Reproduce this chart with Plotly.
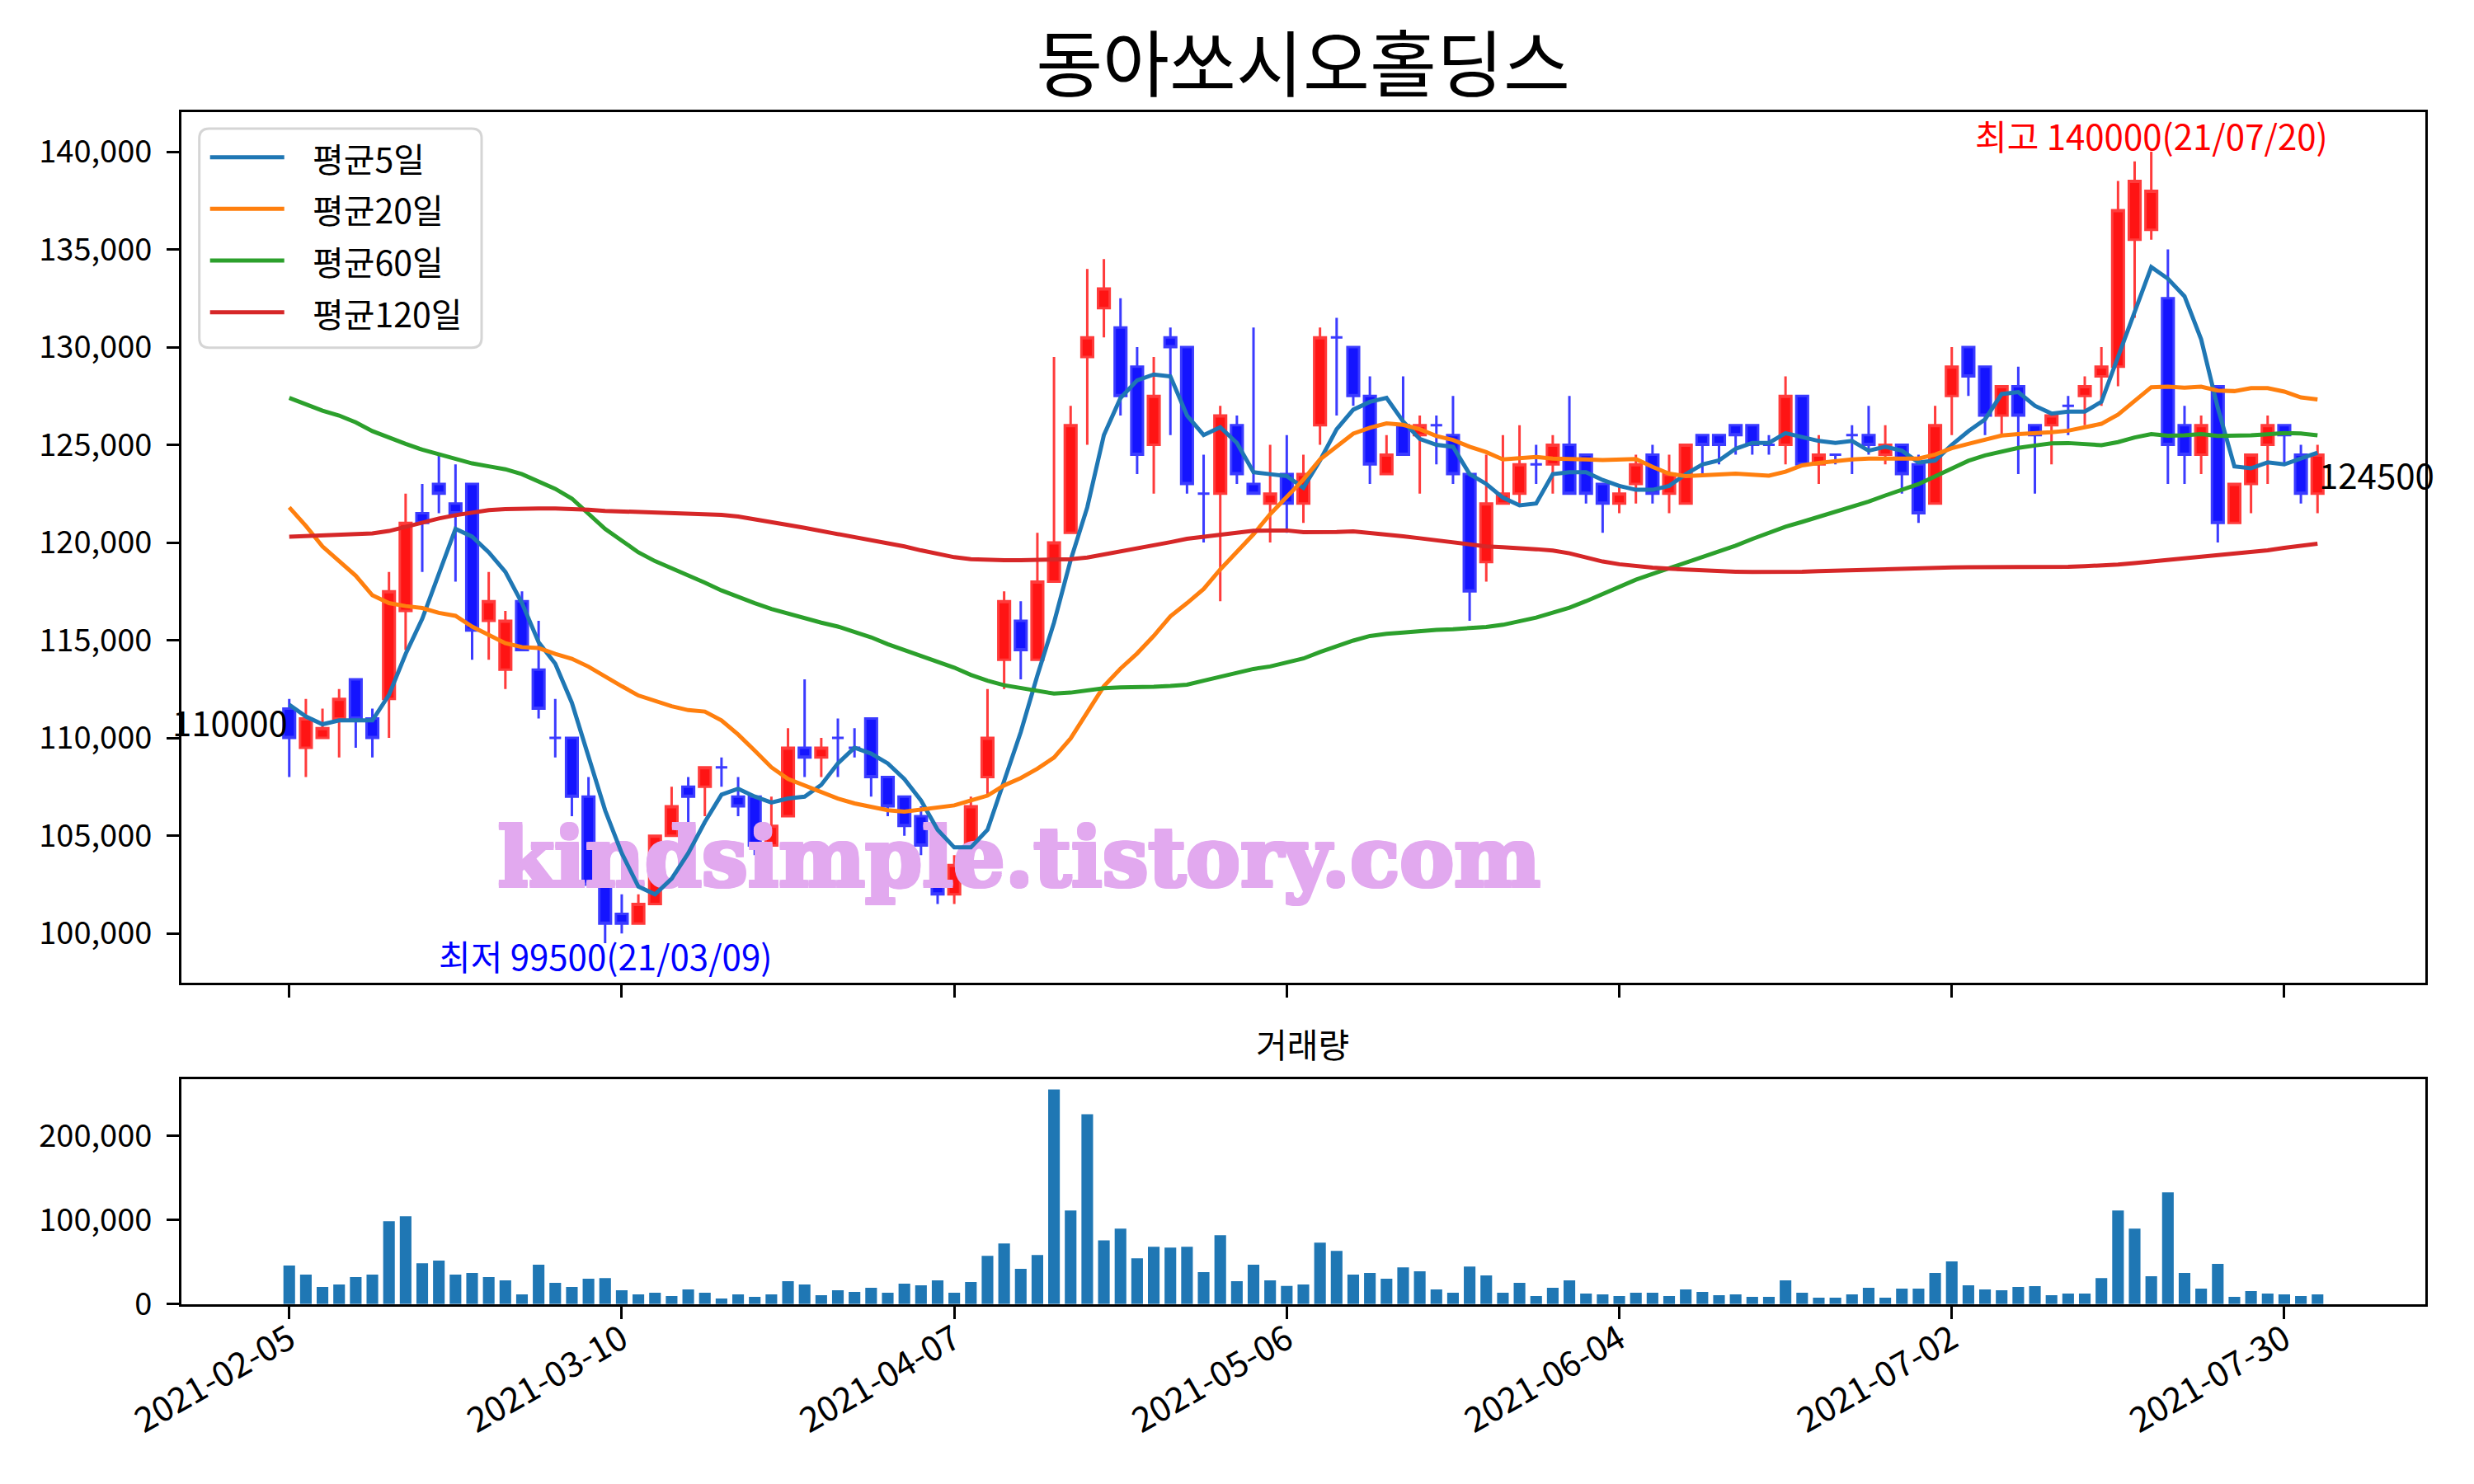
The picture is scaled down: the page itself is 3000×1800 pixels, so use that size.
import numpy as np
import pandas as pd
import plotly.graph_objects as go

# ---------------- data ----------------
stock_name = "동아쏘시오홀딩스"
start_date = "2021-02-05"
end_date = "2021-08-03"
krx_holidays = ["2021-02-11", "2021-02-12", "2021-03-01", "2021-05-05", "2021-05-19"]

ma_labels = ["평균5일", "평균20일", "평균60일", "평균120일"]
volume_title = "거래량"
watermark_text = "kindsimple.tistory.com"

open_ = [111500, 109500, 110000, 111000, 113000, 111000, 112000, 116500, 121500, 123000,
         122000, 123000, 116000, 113500, 117000, 113500, 110000, 110000, 107000, 102500,
         101000, 100500, 101500, 105000, 107500, 107500, 108500, 107000, 107000, 104500,
         106000, 109500, 109000, 110000, 109500, 111000, 108000, 107000, 106000, 103500,
         102000, 104500, 108000, 114000, 116000, 114000, 118000, 120500, 129500, 132000,
         131000, 129000, 125000, 130500, 130000, 122500, 122500, 126000, 123000, 122000,
         123500, 122000, 126000, 130500, 130000, 127500, 123500, 126000, 125500, 126000,
         125500, 123500, 119000, 122000, 122500, 124000, 124000, 125000, 124500, 123000,
         122000, 123000, 124500, 122500, 122000, 125500, 125500, 126000, 126000, 125000,
         125000, 127500, 124000, 124500, 125500, 125500, 124500, 125000, 124000, 122000,
         127500, 130000, 129000, 126500, 128000, 126000, 126000, 127000, 127500, 128500,
         129000, 135500, 136000, 132500, 126000, 124500, 128000, 121000, 123000, 125000,
         126000, 124500, 122500]
high = [112000, 112000, 111500, 112500, 113000, 111500, 118500, 122500, 123000, 124500,
        124000, 123000, 118500, 116500, 117500, 116000, 112000, 110000, 108000, 102500,
        102000, 102000, 105000, 107500, 108000, 108500, 109000, 108000, 107000, 107000,
        110500, 113000, 110000, 111000, 110500, 111000, 108000, 107000, 106500, 104000,
        104000, 107000, 112500, 117500, 117000, 120500, 129500, 127000, 134000, 134500,
        132500, 130000, 129500, 131000, 130000, 124500, 127000, 126500, 131000, 125000,
        125500, 124500, 131000, 131500, 130000, 128500, 125500, 128500, 126500, 126500,
        127500, 123500, 124500, 125500, 126000, 125000, 125500, 127500, 124500, 123000,
        123000, 124500, 125000, 124500, 125000, 125500, 125500, 126000, 126000, 125500,
        128500, 127500, 125500, 124500, 126000, 127000, 126000, 125000, 124500, 127000,
        130000, 130000, 129000, 128000, 129000, 126000, 126500, 127500, 128500, 130000,
        138500, 139500, 140000, 135000, 127000, 126500, 128000, 123000, 124500, 126500,
        126000, 125000, 125000]
low = [108000, 108000, 110000, 109000, 109500, 109000, 110000, 114500, 118500, 121500,
       118000, 114000, 114000, 112500, 114500, 111000, 109000, 106000, 102500, 99500,
       100000, 100500, 101500, 105000, 105500, 106000, 107500, 106000, 104000, 104500,
       106000, 108000, 108000, 108000, 109000, 107000, 106000, 105000, 104000, 101500,
       101500, 102500, 107000, 112500, 113000, 114000, 118000, 120500, 125000, 130500,
       126500, 123500, 122500, 125500, 122500, 120000, 117000, 123000, 122500, 120000,
       120500, 121000, 125000, 126500, 127000, 123000, 123500, 124500, 122500, 124000,
       123000, 116000, 118000, 122000, 122000, 123000, 122500, 122500, 122000, 120500,
       121500, 122000, 122000, 121500, 122000, 123500, 124000, 124500, 124500, 124500,
       124000, 124000, 123000, 124000, 123500, 124500, 124000, 122500, 121000, 122000,
       125500, 127500, 125500, 125500, 123500, 122500, 124000, 125500, 126000, 127000,
       128000, 131500, 135500, 123000, 123000, 123500, 120000, 121000, 121500, 123000,
       124000, 122000, 121500]
close = [110000, 111000, 110500, 112000, 111000, 110000, 117500, 121000, 121000, 122500,
         121500, 115500, 117000, 116000, 114500, 111500, 110000, 107000, 102500, 100500,
         100500, 101500, 105000, 106500, 107000, 108500, 108500, 106500, 104500, 105500,
         109500, 109000, 109500, 110000, 109500, 108000, 106500, 105500, 104500, 102000,
         103500, 106500, 110000, 117000, 114500, 118000, 120000, 126000, 130500, 133000,
         127500, 124500, 127500, 130000, 123000, 122500, 126500, 123500, 122500, 122500,
         122000, 123500, 130500, 130500, 127500, 124000, 124500, 124500, 126000, 126000,
         123500, 117500, 122000, 122500, 124000, 124000, 125000, 122500, 122500, 122000,
         122500, 124000, 122500, 123500, 125000, 125000, 125000, 125500, 125000, 125000,
         127500, 124000, 124500, 124500, 125500, 125000, 125000, 123500, 121500, 126000,
         129000, 128500, 126500, 128000, 126500, 125500, 126500, 127000, 128000, 129000,
         137000, 138500, 138000, 125000, 124500, 126000, 121000, 123000, 124500, 126000,
         125500, 122500, 124500]
volume = [45600, 34900, 20200, 23100, 31900, 34900, 98400, 104200, 48500, 51500,
          34900, 36800, 31900, 28000, 11400, 46600, 25100, 20200, 30000, 30900,
          16300, 11400, 13400, 9400, 17300, 13400, 6500, 11400, 8500, 11400,
          27000, 23100, 10400, 16300, 14300, 19200, 13400, 24100, 22100, 28000,
          13400, 26100, 57300, 72000, 41700, 58300, 254700, 111100, 225400, 75600,
          89600, 54400, 68100, 67100, 68100, 37800, 81800, 27000, 46600, 28000,
          21500, 23100, 73000, 63200, 34900, 36800, 30000, 43600, 38800, 17300,
          13400, 44600, 33900, 13400, 25100, 9400, 19200, 28000, 12400, 11400,
          9400, 13400, 13400, 9400, 17300, 14300, 10400, 11400, 8500, 8500,
          28000, 13400, 7500, 7500, 11400, 19200, 7500, 18200, 18200, 36800,
          50500, 22100, 17300, 16300, 20200, 21200, 10400, 12400, 12400, 30900,
          111100, 89600, 32900, 132600, 36800, 18200, 47600, 8500, 15300, 12400,
          11400, 9400, 11400]

# moving-average values for the days before a full window exists
ma5_head = [111700, 111100, 110700, 110900]
ma20_head = [121800, 120850, 119800, 119050, 118300, 117300, 116900, 116750, 116650, 116400,
             116250, 115700, 115250, 114850, 114650, 114600, 114300, 114050, 113650]
ma60_head = [127400, 127050, 126750, 126500, 126150, 125700, 125350, 125050, 124750, 124500,
             124250, 124050, 123900, 123750, 123500, 123150, 122750, 122250, 121500, 120700,
             120100, 119500, 119050, 118700, 118300, 117950, 117550, 117200, 116900, 116600,
             116350, 116100, 115900, 115700, 115450, 115150, 114800, 114500, 114200, 113900,
             113600, 113230, 112930, 112700, 112550, 112390, 112270, 112320, 112430, 112550,
             112590, 112590, 112620, 112660, 112730, 112930, 113120, 113350, 113530]
ma120_head = [120300, 120330, 120360, 120390, 120430, 120470, 120590, 120820, 121020, 121230,
              121400, 121540, 121660, 121710, 121740, 121740, 121740, 121720, 121680, 121620,
              121590, 121570, 121550, 121530, 121500, 121470, 121420, 121330, 121200, 121050,
              120900, 120750, 120600, 120450, 120300, 120150, 120000, 119800, 119600, 119400,
              119250, 119150, 119100, 119100, 119100, 119100, 119100, 119150, 119230, 119380,
              119550, 119700, 119850, 120020, 120190, 120300, 120420, 120520, 120600, 120620,
              120620, 120530, 120520, 120540, 120570, 120500, 120430, 120320, 120220, 120110,
              120010, 119900, 119800, 119760, 119730, 119660, 119590, 119450, 119240, 119030,
              118890, 118790, 118720, 118660, 118610, 118570, 118540, 118510, 118490, 118480,
              118490, 118510, 118540, 118570, 118600, 118620, 118640, 118660, 118680, 118700,
              118730, 118740, 118740, 118730, 118730, 118730, 118740, 118760, 118790, 118820,
              118870, 118950, 119030, 119100, 119170, 119240, 119320, 119410, 119500]

# ---------------- derived ----------------
hol = set(pd.to_datetime(krx_holidays))
dates = [d for d in pd.bdate_range(start_date, end_date) if d not in hol]
n = len(close)
assert len(dates) == n
idx = list(range(n))


def moving_average(head, window):
    vals = pd.Series(close, dtype=float).rolling(window).mean().to_numpy()
    vals[:len(head)] = head
    return vals


ma_series = [moving_average(ma5_head, 5), moving_average(ma20_head, 20),
             moving_average(ma60_head, 60), moving_average(ma120_head, 120)]
ma_colors = ["#1f77b4", "#ff7f0e", "#2ca02c", "#d62728"]

tick_pos = list(range(0, n, 20))
tick_text = [dates[i].strftime("%Y-%m-%d") for i in tick_pos]

# ---------------- geometry helpers (pixels of the 3000x1800 canvas) ----------------
W, H = 3000, 1800


def px(X):
    return X / W


def py(Y):
    return 1 - Y / H


FONT = "Noto Sans CJK KR"
FS = 41

fig = go.Figure()

hw = 0.35
xlo, xhi = -hw, n - 1 + hw
xpad = 0.05 * (xhi - xlo)
xr = [xlo - xpad, xhi + xpad]
plo, phi = min(low), max(high)
ppad = 0.05 * (phi - plo)
yr = [plo - ppad, phi + ppad]

# watermark below the data
WM = "#e2a9ef"
fig.add_trace(go.Scatter(
    x=[43.9], y=[103450], mode="text", text=[watermark_text],
    textposition="middle center",
    textfont=dict(family="DejaVu Serif", size=99, color=WM, weight="bold",
                  shadow=f"2px 0 0 {WM}, -2px 0 0 {WM}, 0 2px 0 {WM}, 0 -2px 0 {WM}, "
                         f"2px 2px 0 {WM}, -2px -2px 0 {WM}, 2px -2px 0 {WM}, -2px 2px 0 {WM}"),
    hoverinfo="skip", showlegend=False, xaxis="x", yaxis="y"))

up = [i for i in idx if close[i] > open_[i]]
dn = [i for i in idx if close[i] <= open_[i]]


def candle(ix, line_color, fill_color):
    style = dict(line=dict(color=line_color, width=3), fillcolor=fill_color)
    return go.Candlestick(
        x=ix, open=[open_[i] for i in ix], high=[high[i] for i in ix],
        low=[low[i] for i in ix], close=[close[i] for i in ix],
        increasing=style, decreasing=style, whiskerwidth=0,
        showlegend=False, xaxis="x", yaxis="y")


fig.add_trace(candle(up, "#ff3b3b", "#ff1414"))
fig.add_trace(candle(dn, "#3b3bff", "#1414ff"))

for name, vals, col in zip(ma_labels, ma_series, ma_colors):
    fig.add_trace(go.Scatter(x=idx, y=vals, mode="lines", name=name,
                             line=dict(color=col, width=5), showlegend=False,
                             xaxis="x", yaxis="y"))

fig.add_trace(go.Bar(x=idx, y=volume, width=0.7, marker=dict(color="#1f77b4", line=dict(width=0)),
                     showlegend=False, xaxis="x2", yaxis="y2"))

# ---------------- annotations ----------------
imax = int(np.argmax(high))
imin = int(np.argmin(low))
ann = []
ann.append(dict(x=imax, y=high[imax], xref="x", yref="y",
                text=f"최고 {high[imax]}({dates[imax]:%y/%m/%d})",
                showarrow=False, xanchor="center", yanchor="bottom", yshift=-12,
                font=dict(family=FONT, size=42, color="#ff0000")))
ann.append(dict(x=imin, y=low[imin], xref="x", yref="y",
                text=f"최저 {low[imin]}({dates[imin]:%y/%m/%d})",
                showarrow=False, xanchor="center", yanchor="top", yshift=18,
                font=dict(family=FONT, size=42, color="#0000ff")))
ann.append(dict(x=0, y=close[0], xref="x", yref="y", text=f"{close[0]}",
                showarrow=False, xanchor="right", yanchor="middle", yshift=21,
                font=dict(family=FONT, size=42, color="black")))
ann.append(dict(x=n - 1, y=close[-1], xref="x", yref="y", text=f"{close[-1]}",
                showarrow=False, xanchor="left", yanchor="middle", yshift=-23,
                font=dict(family=FONT, size=42, color="black")))
ann.append(dict(x=px(1580), y=py(1265), xref="paper", yref="paper", text=volume_title,
                showarrow=False, xanchor="center", yanchor="middle",
                font=dict(family=FONT, size=FS, color="black")))

# custom legend (matplotlib style box)
LX0, LX1, LY0, LY1, R = 241.7, 584.0, 156.0, 421.7, 12
rx, ry = R / W, R / H
path = (f"M {px(LX0)+rx},{py(LY0)} L {px(LX1)-rx},{py(LY0)} Q {px(LX1)},{py(LY0)} {px(LX1)},{py(LY0)-ry} "
        f"L {px(LX1)},{py(LY1)+ry} Q {px(LX1)},{py(LY1)} {px(LX1)-rx},{py(LY1)} "
        f"L {px(LX0)+rx},{py(LY1)} Q {px(LX0)},{py(LY1)} {px(LX0)},{py(LY1)+ry} "
        f"L {px(LX0)},{py(LY0)-ry} Q {px(LX0)},{py(LY0)} {px(LX0)+rx},{py(LY0)} Z")
shapes = [dict(type="path", path=path, xref="paper", yref="paper",
               line=dict(color="#d5d5d5", width=3), fillcolor="rgba(255,255,255,0.8)", layer="above")]
row_y = [190.7, 253.3, 316.0, 378.7]
for lab, col, ry_ in zip(ma_labels, ma_colors, row_y):
    shapes.append(dict(type="line", xref="paper", yref="paper",
                       x0=px(254.7), x1=px(344.7), y0=py(ry_), y1=py(ry_),
                       line=dict(color=col, width=5), layer="above"))
    ann.append(dict(x=px(377), y=py(ry_), xref="paper", yref="paper", text=lab,
                    showarrow=False, xanchor="left", yanchor="middle",
                    font=dict(family=FONT, size=FS, color="black")))


def axis_common(fs):
    return dict(showline=True, linecolor="black", linewidth=3, mirror=True,
                showgrid=False, zeroline=False, ticks="outside", ticklen=15,
                tickwidth=3, tickcolor="black", automargin=False,
                tickfont=dict(family=FONT, size=fs, color="black"))


fig.update_layout(
    width=W, height=H, margin=dict(l=0, r=0, t=0, b=0, autoexpand=False),
    paper_bgcolor="white", plot_bgcolor="white",
    title=dict(text=stock_name, x=px(1580), y=py(79), xanchor="center", yanchor="middle",
               font=dict(family=FONT, size=88, color="black")),
    boxmode="overlay", boxgap=0.3, boxgroupgap=0,
    xaxis=dict(domain=[px(220), px(2941)], range=xr, anchor="y",
               tickvals=tick_pos, showticklabels=False,
               rangeslider=dict(visible=False), **axis_common(41)),
    yaxis=dict(domain=[py(1192), py(136)], range=yr, anchor="x",
               dtick=5000, tick0=0, tickformat=",d", ticklabelstandoff=10, **axis_common(38)),
    xaxis2=dict(domain=[px(220), px(2941)], range=xr, anchor="y2",
                tickvals=tick_pos, ticktext=tick_text, tickangle=-30,
                ticklabelstandoff=-16, **axis_common(42)),
    yaxis2=dict(domain=[py(1581.7), py(1308.5)], range=[0, max(volume) * 1.05], anchor="x2",
                dtick=100000, tick0=0, tickformat=",d", ticklabelstandoff=10, **axis_common(38)),
    annotations=ann, shapes=shapes, showlegend=False,
)

fig.write_html("out.html", config={"displayModeBar": False},
               post_script="document.body.style.margin='0';")
